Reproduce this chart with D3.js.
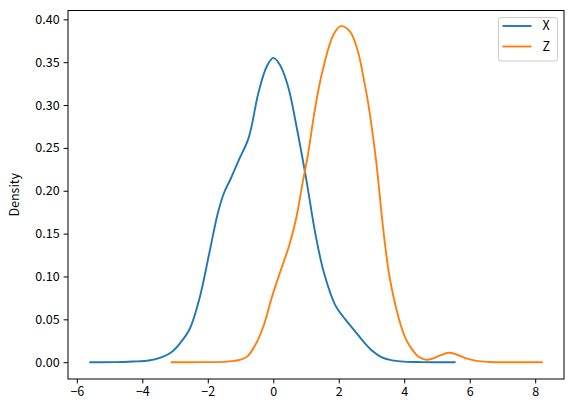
<!DOCTYPE html>
<html>
<head>
<meta charset="utf-8">
<script src="https://cdn.jsdelivr.net/npm/d3@7"></script>
<style>
  body { margin: 0; background: #fff; }
  svg text { font-family: "Noto Sans CJK JP", "Noto Sans", "DejaVu Sans", sans-serif; }
</style>
</head>
<body>
<svg id="chart" width="574" height="412"></svg>
<script>
// series names
var seriesNames = ["X", "Z"];

// KDE of X
var xGrid = [-5.59, -4.8, -4.3, -3.8, -3.4, -3.1, -2.85, -2.55, -2.25, -1.95, -1.7, -1.5, -1.3, -1.05, -0.75, -0.45, -0.2, 0.0, 0.2, 0.45, 0.7, 1.0, 1.3, 1.55, 1.9, 2.2, 2.5, 2.8, 3.05, 3.3, 3.6, 4.0, 4.5, 5.0, 5.54];
var xDensity = [0, 0.0001, 0.0008, 0.002, 0.006, 0.012, 0.022, 0.039, 0.075, 0.128, 0.173, 0.198, 0.214, 0.236, 0.262, 0.315, 0.345, 0.355, 0.347, 0.322, 0.277, 0.215, 0.147, 0.104, 0.066, 0.05, 0.036, 0.022, 0.0124, 0.006, 0.0025, 0.0007, 0.0001, 0, 0];

// KDE of Z
var zGrid = [-3.10, -2.5, -2.0, -1.5, -1.2, -1.0, -0.8, -0.55, -0.3, -0.05, 0.2, 0.5, 0.7, 0.9, 1.05, 1.25, 1.4, 1.55, 1.7, 1.85, 2.06, 2.34, 2.59, 2.74, 2.9, 3.15, 3.35, 3.55, 3.85, 4.05, 4.25, 4.45, 4.65, 4.85, 5.1, 5.35, 5.6, 5.85, 6.2, 6.6, 7.2, 8.2];
var zDensity = [0, 0, 0.0001, 0.0004, 0.0015, 0.003, 0.0065, 0.02, 0.042, 0.075, 0.104, 0.138, 0.168, 0.21, 0.24, 0.29, 0.322, 0.347, 0.368, 0.383, 0.392, 0.386, 0.362, 0.335, 0.302, 0.232, 0.158, 0.10, 0.049, 0.027, 0.0144, 0.006, 0.003, 0.004, 0.008, 0.011, 0.009, 0.005, 0.0015, 0.0003, 0, 0];

var xTicks = [-6, -4, -2, 0, 2, 4, 6, 8];
var yTicks = [0, 0.05, 0.10, 0.15, 0.20, 0.25, 0.30, 0.35, 0.40];

var colors = ["#1f77b4", "#ff7f0e"];

var svg = d3.select("#chart");
var mLeft = 68, mRight = 564, mTop = 10.5, mBottom = 379;

var x = d3.scaleLinear().domain([-6.27, 8.88]).range([mLeft, mRight]);
var y = d3.scaleLinear().domain([-0.0196, 0.4103]).range([mBottom, mTop]);

var series = [
  { name: seriesNames[0], pts: xGrid.map(function(v, i) { return [v, xDensity[i]]; }) },
  { name: seriesNames[1], pts: zGrid.map(function(v, i) { return [v, zDensity[i]]; }) }
];

var line = d3.line()
  .x(function(d) { return x(d[0]); })
  .y(function(d) { return y(d[1]); })
  .curve(d3.curveCatmullRom.alpha(0.5));

svg.append("defs").append("clipPath").attr("id", "clip")
  .append("rect").attr("x", mLeft).attr("y", mTop).attr("width", mRight - mLeft).attr("height", mBottom - mTop);

svg.append("g").attr("clip-path", "url(#clip)")
  .selectAll("path").data(series).enter().append("path")
  .attr("d", function(d) { return line(d.pts); })
  .attr("fill", "none")
  .attr("stroke", function(d, i) { return colors[i]; })
  .attr("stroke-width", 1.9)
  .attr("stroke-linejoin", "round")
  .attr("stroke-linecap", "square");

// axes
var xAxis = d3.axisBottom(x).tickValues(xTicks).tickSize(4.4).tickPadding(4)
  .tickFormat(function(d) { return d < 0 ? "\u2212" + Math.abs(d) : d; });
var yAxis = d3.axisLeft(y).tickValues(yTicks).tickSize(4.4).tickPadding(4)
  .tickFormat(d3.format(".2f"));

var gx = svg.append("g").attr("transform", "translate(0," + mBottom + ")").call(xAxis);
var gy = svg.append("g").attr("transform", "translate(" + mLeft + ",0)").call(yAxis);
[gx, gy].forEach(function(g) {
  g.select(".domain").remove();
  g.selectAll("line").attr("stroke", "#000").attr("stroke-width", 1);
  g.selectAll("text").attr("fill", "#000").style("font-size", "12.5px");
});

// frame
svg.append("rect")
  .attr("x", mLeft).attr("y", mTop).attr("width", mRight - mLeft).attr("height", mBottom - mTop)
  .attr("fill", "none").attr("stroke", "#000").attr("stroke-width", 1);

svg.append("text")
  .attr("transform", "translate(19," + ((mTop + mBottom) / 2) + ") rotate(-90)")
  .attr("text-anchor", "middle")
  .style("font-size", "12.5px")
  .text("Density");

// legend
var lg = svg.append("g").attr("transform", "translate(498.5,17.5)");
lg.append("rect").attr("width", 59).attr("height", 43.5).attr("rx", 2.5)
  .attr("fill", "#fff").attr("fill-opacity", 0.8).attr("stroke", "#ccc").attr("stroke-width", 1);
var items = lg.selectAll(".item").data(series).enter().append("g")
  .attr("transform", function(d, i) { return "translate(0," + (8.5 + i * 20.5) + ")"; });
items.append("line").attr("x1", 4).attr("x2", 33)
  .attr("stroke", function(d, i) { return colors[i]; }).attr("stroke-width", 1.9);
items.append("text").attr("x", 44).attr("dy", "0.35em")
  .style("font-size", "12.5px").text(function(d) { return d.name; });
</script>
</body>
</html>
